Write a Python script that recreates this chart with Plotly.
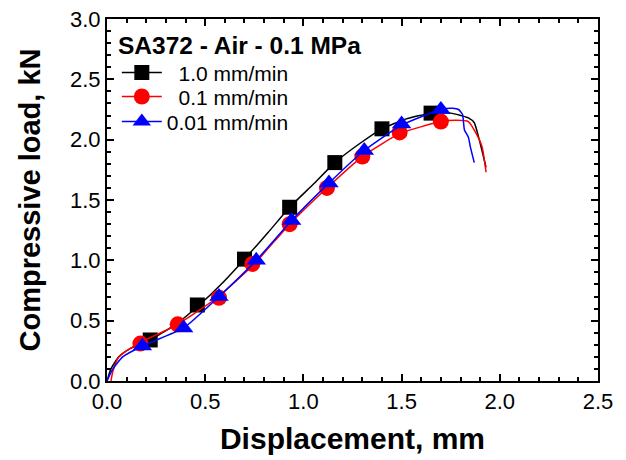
import plotly.graph_objects as go

# Curves (displacement mm, load kN)
blk_x = [0.0, 0.02, 0.06, 0.12, 0.22, 0.35, 0.47, 0.58, 0.70, 0.82, 0.93, 1.05, 1.16, 1.28, 1.40, 1.52, 1.65, 1.75, 1.84, 1.87, 1.90, 1.93]
blk_y = [0.0, 0.10, 0.20, 0.27, 0.34, 0.47, 0.63, 0.80, 1.01, 1.23, 1.44, 1.63, 1.81, 1.96, 2.09, 2.17, 2.22, 2.22, 2.18, 2.14, 1.97, 1.77]
red_x = [0.02, 0.03, 0.06, 0.16, 0.36, 0.56, 0.75, 0.93, 1.12, 1.30, 1.49, 1.70, 1.78, 1.84, 1.88, 1.91, 1.93]
red_y = [0.0, 0.08, 0.20, 0.31, 0.47, 0.69, 0.97, 1.30, 1.60, 1.86, 2.05, 2.15, 2.16, 2.15, 2.05, 1.94, 1.73]
blu_x = [0.0, 0.03, 0.08, 0.18, 0.39, 0.57, 0.76, 0.94, 1.13, 1.31, 1.50, 1.70, 1.76, 1.79, 1.81, 1.82, 1.84, 1.85, 1.87]
blu_y = [0.0, 0.10, 0.20, 0.29, 0.44, 0.70, 1.00, 1.33, 1.64, 1.91, 2.12, 2.25, 2.26, 2.25, 2.21, 2.08, 2.02, 1.94, 1.81]

# Markers
blk_mx = [0.22, 0.46, 0.70, 0.93, 1.16, 1.40, 1.65]
blk_my = [0.34, 0.63, 1.01, 1.44, 1.81, 2.09, 2.22]
red_mx = [0.17, 0.36, 0.57, 0.74, 0.93, 1.12, 1.30, 1.49, 1.70]
red_my = [0.31, 0.47, 0.69, 0.97, 1.30, 1.60, 1.86, 2.06, 2.15]
blu_mx = [0.18, 0.39, 0.57, 0.76, 0.94, 1.13, 1.31, 1.50, 1.70]
blu_my = [0.29, 0.44, 0.70, 1.00, 1.33, 1.64, 1.91, 2.13, 2.25]

names = ["  1.0 mm/min", "  0.1 mm/min", "0.01 mm/min"]
colors = ["black", "red", "blue"]
symbols = ["square", "circle", "triangle-up"]
sizes = [15, 16, 17]
legend_title = "SA372 - Air - 0.1 MPa"

FONT = "Liberation Sans, Arial"

fig = go.Figure()
series = [(blk_x, blk_y, blk_mx, blk_my), (red_x, red_y, red_mx, red_my), (blu_x, blu_y, blu_mx, blu_my)]
for (cx, cy, mx, my), n, c, s, sz in zip(series, names, colors, symbols, sizes):
    fig.add_trace(go.Scatter(x=cx, y=cy, mode="lines", line=dict(color=c, width=1.5, shape="spline", smoothing=0.5),
                             showlegend=False, hoverinfo="skip"))
    fig.add_trace(go.Scatter(x=mx, y=my, mode="markers", marker=dict(color=c, symbol=s, size=sz),
                             showlegend=False))
legend_ids = ["legend", "legend2", "legend3"]
for n, c, s, sz, lg in zip(names, colors, symbols, sizes, legend_ids):
    fig.add_trace(go.Scatter(x=[None], y=[None], mode="lines+markers", name=n, legend=lg,
                             line=dict(color=c, width=1.5), marker=dict(color=c, symbol=s, size=sz)))

axis_common = dict(showline=True, mirror="ticks", linecolor="black", linewidth=2,
                   ticks="inside", ticklen=7, tickwidth=1.5, tickcolor="black",
                   showgrid=False, zeroline=False, automargin=False, ticklabeloverflow="allow",
                   tickfont=dict(family=FONT, size=22, color="black"),
                   minor=dict(ticks="inside", ticklen=4, tickwidth=1.5, tickcolor="black"))

fig.update_xaxes(range=[0, 2.5], dtick=0.5, tickformat=".1f",
                 title=dict(text="<b>Displacement, mm</b>", font=dict(family=FONT, size=30, color="black"), standoff=15),
                 **axis_common)
fig.update_yaxes(range=[0, 3.0], dtick=0.5, tickformat=".1f",
                 title=dict(text="<b>Compressive load, kN</b>", font=dict(family=FONT, size=29, color="black"), standoff=21),
                 **axis_common)

leg_common = dict(x=0.02, xanchor="left", yanchor="middle", bgcolor="rgba(0,0,0,0)",
                  itemwidth=40, font=dict(family=FONT, size=21, color="black"))

# page body adds an 8px margin, so the figure is 8px smaller and shifted
fig.update_layout(
    width=618, height=452,
    margin=dict(l=99, r=28, t=11, b=79),
    paper_bgcolor="white", plot_bgcolor="white",
    font=dict(family=FONT, color="black"),
    legend=dict(y=0.851, **leg_common),
    legend2=dict(y=0.785, **leg_common),
    legend3=dict(y=0.716, **leg_common),
    annotations=[dict(text="<b>" + legend_title + "</b>", xref="paper", yref="paper",
                      x=0.018, y=0.928, xanchor="left", yanchor="middle", showarrow=False,
                      font=dict(family=FONT, size=24.5, color="black"))],
)

fig.write_html("out.html")
